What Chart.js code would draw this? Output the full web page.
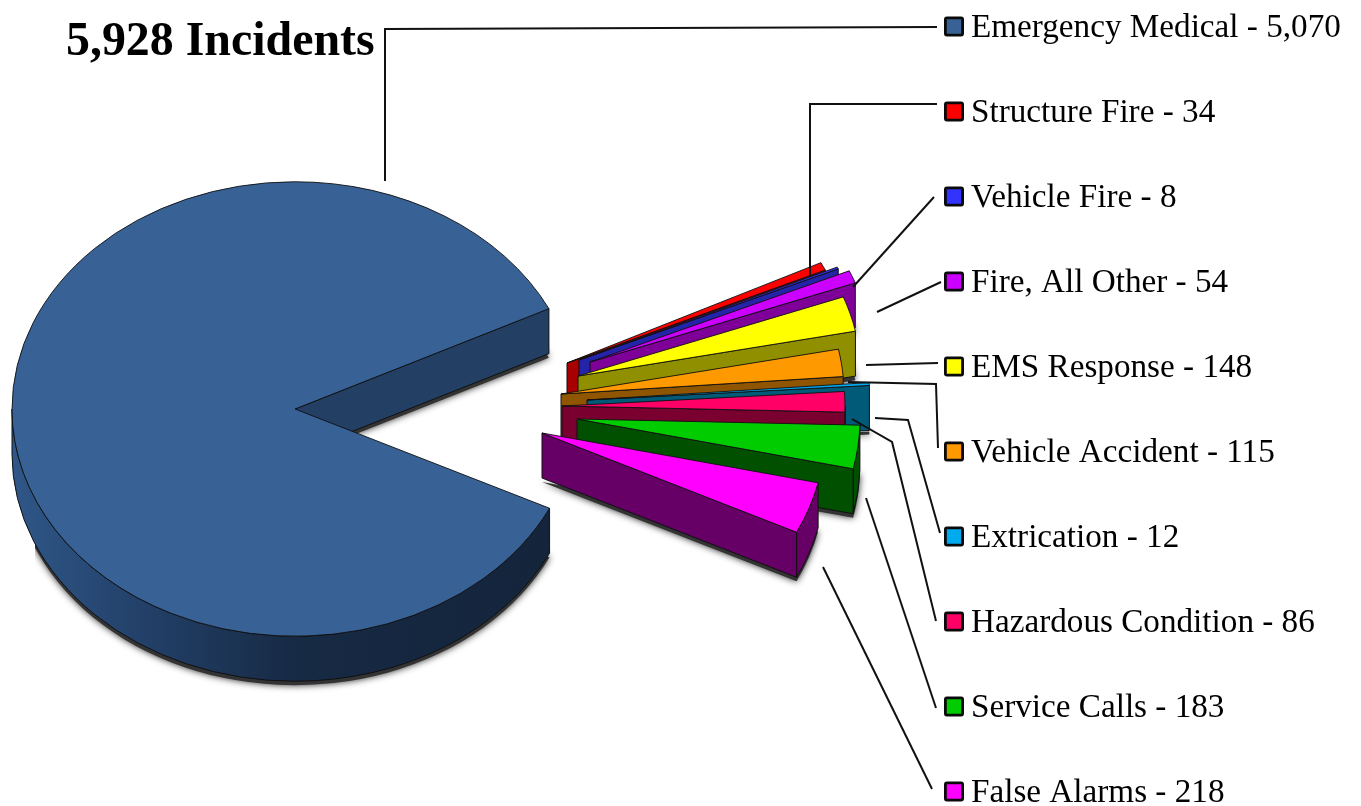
<!DOCTYPE html>
<html>
<head>
<meta charset="utf-8">
<style>html,body{margin:0;padding:0;background:#fff}#wrap{width:1361px;height:806px}canvas{display:block}</style>
<script src="https://cdn.jsdelivr.net/npm/chart.js@4/dist/chart.umd.min.js"></script>
</head>
<body>
<div id="wrap"><canvas id="c" width="1361" height="806"></canvas></div>
<script>
const categories = ['Emergency Medical','Structure Fire','Vehicle Fire','Fire, All Other','EMS Response','Vehicle Accident','Extrication','Hazardous Condition','Service Calls','False Alarms'];
const incidents = [5070,34,8,54,148,115,12,86,183,218];
const totalLabel = '5,928 Incidents';

const topColors  = ['#386296','#ff0000','#3333ff','#cc00ff','#ffff00','#ff9900','#00aaee','#ff0066','#00cc00','#ff00ff'];
const wallColors = ['#234064','#a80000','#2424a8','#7f0099','#8f8f00','#8f5500','#005a78','#7a0030','#005000','#660066'];
const explodeX = [0,272,284,295,283,266,292,267,282,247];
const explodeY = [0,-46,-49,-47,-33,-15,-9,-3,10,24];
const leaders = [
  [[385,181],[385,29],[937,27]],
  [[810,277],[810,104],[937,104]],
  [[853,287],[934,197]],
  [[877,312],[941,282]],
  [[866,365],[938,363]],
  [[848,382],[936,384],[938,448]],
  [[875,418],[908,420],[940,533]],
  [[852,419],[892,442],[936,621]],
  [[866,498],[936,708]],
  [[823,567],[932,789]]
];

const CX = 295, CY = 409, K = 0.803, DEPTH = 45;

function slicePath(ctx, a, ox, oy, dy){
  const r = a.outerRadius, x = CX+ox, y = CY+oy+dy;
  ctx.beginPath();
  ctx.moveTo(x,y);
  ctx.ellipse(x,y,r,r*K,0,a.startAngle,a.endAngle);
  ctx.closePath();
}

const pie3d = {
  id:'pie3d',
  beforeDatasetDraw(chart){
    const ctx = chart.ctx, arcs = chart.getDatasetMeta(0).data;
    arcs.forEach((a,i)=>{
      const ox = explodeX[i], oy = explodeY[i], r = a.outerRadius;
      const x = CX+ox, y = CY+oy, ry = r*K;
      ctx.save();
      ctx.lineWidth = 1;
      ctx.strokeStyle = '#101010';
      ctx.lineJoin = 'round';
      // soft contact shadow under the slice
      ctx.save();
      if(i===0){ ctx.beginPath(); ctx.rect(35,0,1326,806); ctx.clip(); }
      ctx.shadowColor = 'rgba(0,0,0,0.85)';
      ctx.shadowBlur = 7;
      ctx.fillStyle = '#333333';
      slicePath(ctx,a,ox,oy,DEPTH+4);
      ctx.fill();
      ctx.restore();
      // outer rim: only the part of the arc facing the viewer
      const s = a.startAngle, e = a.endAngle;
      const wrap = s > Math.PI ? Math.PI*2 : 0;
      const fromA = Math.max(s-wrap,0), toA = Math.min(e-wrap,Math.PI);
      if(toA > fromA){
        ctx.beginPath();
        ctx.ellipse(x,y,r,ry,0,fromA,toA);
        ctx.ellipse(x,y+DEPTH,r,ry,0,toA,fromA,true);
        ctx.closePath();
        if(i===0){
          const g = ctx.createLinearGradient(x-r,0,x+r,0);
          g.addColorStop(0,'#2f5788');
          g.addColorStop(0.22,'#23416a');
          g.addColorStop(0.5,'#172a44');
          g.addColorStop(1,'#13243a');
          ctx.fillStyle = g;
        } else ctx.fillStyle = wallColors[i];
        ctx.fill(); ctx.stroke();
      }
      // visible cut wall along the end edge
      const ex = x + r*Math.cos(e), ey = y + ry*Math.sin(e);
      ctx.beginPath();
      ctx.moveTo(x,y); ctx.lineTo(ex,ey); ctx.lineTo(ex,ey+DEPTH); ctx.lineTo(x,y+DEPTH);
      ctx.closePath();
      ctx.fillStyle = wallColors[i];
      ctx.fill(); ctx.stroke();
      // top face: the library's own arc element, squashed into perspective
      ctx.translate(x,y);
      ctx.scale(1,K);
      ctx.translate(-a.x,-a.y);
      a.draw(ctx);
      ctx.restore();
    });
    return false;
  },
  afterDraw(chart){
    const ctx = chart.ctx;
    ctx.save();
    ctx.strokeStyle = '#111';
    ctx.lineWidth = 2;
    ctx.lineJoin = 'miter';
    leaders.forEach(l=>{
      ctx.beginPath();
      l.forEach((p,j)=> j? ctx.lineTo(p[0],p[1]) : ctx.moveTo(p[0],p[1]));
      ctx.stroke();
    });
    ctx.font = '33.2px "Liberation Serif"';
    ctx.textBaseline = 'middle';
    ctx.textAlign = 'left';
    categories.forEach((c,i)=>{
      const yc = 26.5 + i*85;
      ctx.fillStyle = topColors[i];
      ctx.strokeStyle = '#0a0a0a';
      ctx.lineWidth = 2.8;
      ctx.beginPath();
      ctx.roundRect(945.4,yc-8.6,17.2,17.2,1.5);
      ctx.fill(); ctx.stroke();
      ctx.fillStyle = '#000';
      ctx.fillText(c+' - '+incidents[i].toLocaleString('en-US'),971,yc+2);
    });
    ctx.restore();
  }
};

new Chart(document.getElementById('c'),{
  type:'pie',
  data:{labels:categories,datasets:[{
    data:incidents,
    backgroundColor:topColors,
    borderColor:'#101010',
    borderWidth:1,
    radius:283
  }]},
  options:{
    responsive:false,
    animation:false,
    rotation:115.9,
    layout:{padding:{left:66,top:0}},
    plugins:{
      legend:{display:false},
      tooltip:{enabled:false},
      title:{display:true,text:totalLabel,align:'start',color:'#000',
        font:{family:'"Liberation Serif"',size:47.9,weight:'bold'},padding:{top:14,bottom:0}}
    }
  },
  plugins:[pie3d]
});
</script>
</body>
</html>
